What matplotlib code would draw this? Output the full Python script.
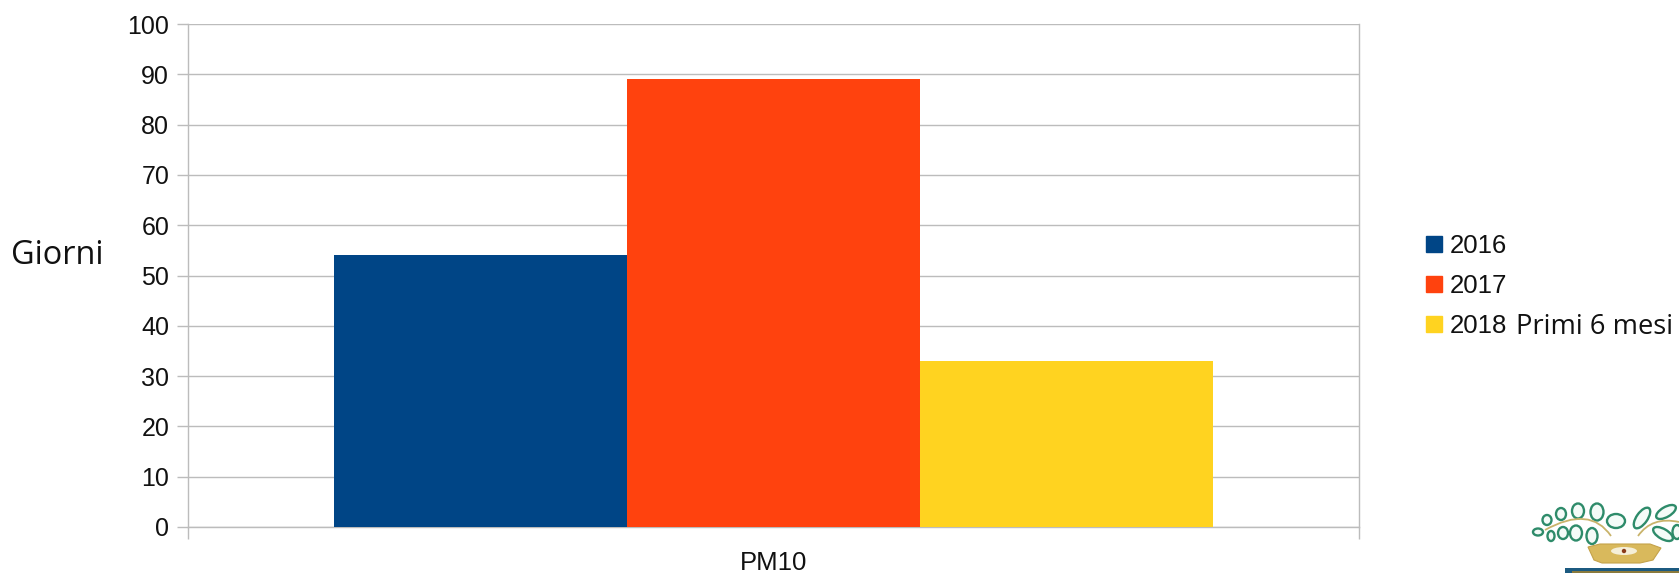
import matplotlib
matplotlib.use('Agg')
import matplotlib.pyplot as plt
from matplotlib.patches import Ellipse, Rectangle, Polygon, Circle, PathPatch
from matplotlib.path import Path

W, H = 1679, 573

categories = ['PM10']
series_names = ['2016', '2017', '2018']
series_values = [54, 89, 33]
series_colors = ['#004586', '#ff420e', '#ffd320']
y_ticks = list(range(0, 101, 10))

GRID = '#bcbcbc'
ARIAL = 'Liberation Sans'
CALIBRI = ['Open Sans', 'DejaVu Sans']


def px_axes(fig, x0, y0, x1, y1):
    return fig.add_axes([x0 / W, 1 - y1 / H, (x1 - x0) / W, (y1 - y0) / H])


fig = plt.figure(figsize=(W / 100, H / 100), dpi=100)
ax = px_axes(fig, 188, 24, 1359, 527)

# three touching bars centred on the single category
bar_w = 0.25
for i, (name, val, col) in enumerate(zip(series_names, series_values, series_colors)):
    ax.bar(0 + (i - 1) * bar_w, val, width=bar_w, color=col, label=name, zorder=3)

ax.set_xlim(-0.5, 0.5)
ax.set_ylim(0, 100)
ax.set_yticks(y_ticks)
ax.set_xticks([-0.5, 0.5])
ax.set_xticklabels(['', ''])
ax.grid(axis='y', color=GRID, linewidth=1.0, zorder=0)
ax.set_axisbelow(True)
for s in ax.spines.values():
    s.set_color(GRID)
    s.set_linewidth(1.0)
ax.spines['top'].set_visible(False)
ax.tick_params(axis='y', length=8, width=1.0, color=GRID, labelsize=18, pad=5.5)
ax.tick_params(axis='x', length=8.5, width=1.0, color=GRID)
for t in ax.get_yticklabels():
    t.set_fontfamily(ARIAL)
    t.set_color('#111111')

fig.text(773.5 / W, 1 - 570.5 / H, categories[0], ha='center', va='baseline',
         fontsize=18.5, family=ARIAL, color='#111111')
fig.text(11 / W, 1 - 264 / H, 'Giorni', ha='left', va='baseline',
         fontsize=23.4, family=CALIBRI, color='#111111')

# legend, laid out by hand to keep the spacing tight
for y, name, col in zip([244, 284, 324], series_names, series_colors):
    fig.patches.append(Rectangle((1426 / W, 1 - (y + 8) / H), 16 / W, 16 / H,
                                 transform=fig.transFigure, color=col))
    fig.text(1450 / W, 1 - (y + 9) / H, name, ha='left', va='baseline',
             fontsize=18.5, family=ARIAL, color='#111111')
fig.text(1516 / W, 1 - 334 / H, 'Primi 6 mesi', ha='left', va='baseline',
         fontsize=19.7, family=CALIBRI, color='#111111')

# coat of arms in the bottom corner, in pixel coordinates
logo = fig.add_axes([0, 0, 1, 1], facecolor='none')
logo.set_xlim(0, W)
logo.set_ylim(H, 0)
logo.axis('off')
leaf = '#2e8b6a'
leaves = [(1538, 532, 10, 7, 0), (1551, 536, 7, 10, 0), (1563, 533, 10, 12, 0),
          (1576, 533, 12, 15, 0), (1592, 536, 11, 16, 0), (1547, 520, 9, 10, 0),
          (1561, 514, 10, 12, 0), (1578, 511, 12, 15, 0), (1597, 512, 13, 17, 0),
          (1616, 521, 18, 14, 0), (1642, 518, 11, 24, 35), (1666, 512, 10, 22, 60),
          (1663, 534, 10, 22, 120), (1677, 532, 9, 14, 0)]
for x, y, w, h, a in leaves:
    logo.add_patch(Ellipse((x, y), w, h, angle=a, fc='#f4fbf8', ec=leaf, lw=1.7))
for verts in ([(1545, 530), (1590, 505), (1611, 536)], [(1638, 536), (1652, 516), (1679, 522)]):
    logo.add_patch(PathPatch(Path(verts, [Path.MOVETO, Path.CURVE3, Path.CURVE3]),
                             fill=False, ec='#c9b36a', lw=1.3))
logo.add_patch(Polygon([(1588, 547), (1600, 544), (1650, 544), (1661, 548), (1653, 560), (1640, 563),
                        (1602, 563), (1594, 560)], fc='#d9b95c', ec='#c4a24a', lw=0.8))
logo.add_patch(Ellipse((1624, 551), 26, 8, fc='#f5efd8', ec='none'))
logo.add_patch(Circle((1624, 551), 2.2, fc='#8a3b1a', ec='none'))
logo.add_patch(Rectangle((1565, 568), 114, 5, fc='#1c5a80', ec='none'))
logo.add_patch(Rectangle((1572, 571), 107, 2, fc='#8a7a3c', ec='none'))

fig.savefig('out.png', dpi=100)
